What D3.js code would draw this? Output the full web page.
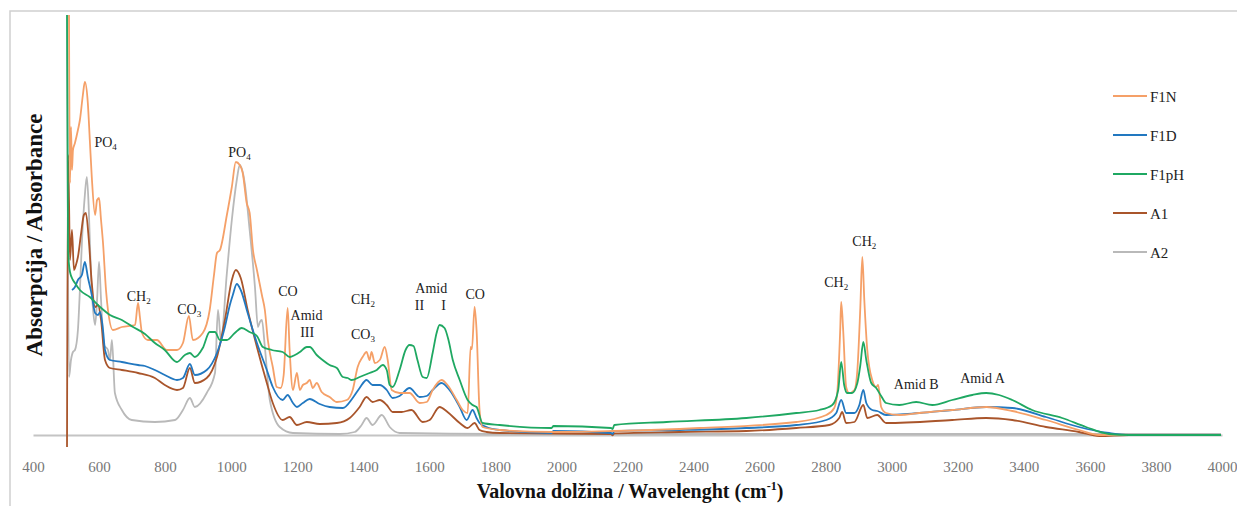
<!DOCTYPE html>
<html>
<head>
<meta charset="utf-8">
<script src="https://cdn.jsdelivr.net/npm/d3@7"></script>
<style>
  body { margin: 0; background: #fff; }
  svg { display: block; font-family: "Liberation Serif", "Times New Roman", serif; }
  .axis text { fill: #777; font-size: 15px; font-family: "Liberation Serif", "Times New Roman", serif; }
  .axis .domain { stroke: #c4c4c4; stroke-width: 2; }
  .series { fill: none; stroke-width: 1.8; stroke-linejoin: round; }
  .note { font-size: 14px; fill: #222; text-anchor: middle; }
</style>
</head>
<body>
<div id="chart"></div>
<script>
// wavenumber ticks
const xTicks = [400, 600, 800, 1000, 1200, 1400, 1600, 1800, 2000, 2200, 2400,
  2600, 2800, 3000, 3200, 3400, 3600, 3800, 4000];

const seriesNames = ["F1N", "F1D", "F1pH", "A1", "A2"];

// [wavenumber cm-1, absorbance]
const f1n = [[509,2.10],[512,1.26],[515,1.54],[518,1.325],[521,1.425],[527,1.46],[536,1.525],[542,1.575],
  [551,1.70],[557,1.765],[566,1.66],[572,1.475],[578,1.29],[588,1.10],[594,1.175],[600,1.185],[606,1.075],
  [612,0.96],[621,0.725],[627,0.625],[642,0.525],[669,0.54],[709,0.55],[718,0.66],[724,0.585],[730,0.51],
  [748,0.475],[775,0.475],[805,0.425],[836,0.425],[854,0.46],[872,0.595],[884,0.475],[914,0.51],[935,0.625],
  [948,0.80],[957,0.91],[966,0.925],[987,1.10],[1002,1.24],[1014,1.365],[1026,1.35],[1035,1.31],[1047,1.16],
  [1056,1.11],[1066,0.925],[1078,0.825],[1093,0.70],[1102,0.625],[1111,0.475],[1126,0.34],[1138,0.24],
  [1150,0.235],[1159,0.30],[1171,0.635],[1177,0.425],[1187,0.225],[1199,0.31],[1208,0.225],[1217,0.25],
  [1229,0.26],[1238,0.275],[1247,0.235],[1259,0.26],[1274,0.215],[1298,0.19],[1320,0.165],[1350,0.175],
  [1368,0.225],[1383,0.34],[1398,0.39],[1410,0.415],[1419,0.375],[1425,0.415],[1435,0.36],[1450,0.375],
  [1465,0.44],[1474,0.375],[1486,0.225],[1510,0.21],[1540,0.21],[1571,0.16],[1592,0.165],[1610,0.225],
  [1637,0.275],[1655,0.25],[1683,0.175],[1701,0.125],[1716,0.11],[1725,0.44],[1729,0.43],[1737,0.64],
  [1743,0.525],[1752,0.125],[1761,0.04],[1813,0.025],[1973,0.015],[2155,0.02],[2418,0.035],[2711,0.065],
  [2802,0.10],[2826,0.135],[2835,0.21],[2844,0.525],[2847,0.665],[2853,0.525],[2862,0.24],[2871,0.21],
  [2887,0.225],[2896,0.325],[2905,0.64],[2911,0.89],[2917,0.675],[2926,0.425],[2941,0.275],[2953,0.24],
  [2959,0.25],[2968,0.14],[2983,0.11],[3023,0.10],[3083,0.11],[3183,0.125],[3286,0.14],[3365,0.12],
  [3467,0.075],[3567,0.025],[3628,0.0],[3997,0.0]];

const f1d = [[518,0.725],[527,0.74],[536,0.775],[548,0.80],[557,0.865],[566,0.79],[578,0.70],[588,0.61],
  [597,0.60],[603,0.615],[612,0.525],[618,0.425],[633,0.375],[669,0.365],[718,0.35],[739,0.345],[769,0.325],
  [799,0.30],[836,0.275],[854,0.285],[875,0.355],[890,0.30],[926,0.325],[957,0.41],[981,0.54],[996,0.65],
  [1005,0.70],[1017,0.755],[1029,0.725],[1050,0.61],[1078,0.46],[1108,0.325],[1126,0.24],[1156,0.175],
  [1171,0.20],[1187,0.16],[1199,0.14],[1217,0.16],[1238,0.18],[1268,0.155],[1298,0.14],[1338,0.135],
  [1368,0.185],[1389,0.235],[1410,0.275],[1428,0.25],[1450,0.25],[1471,0.225],[1489,0.185],[1510,0.195],
  [1540,0.235],[1571,0.19],[1592,0.195],[1610,0.225],[1637,0.26],[1661,0.225],[1692,0.14],[1713,0.075],
  [1731,0.125],[1743,0.085],[1752,0.06],[1773,0.04],[1813,0.025],[1970,0.01],[1976,0.02],[2150,0.01],
  [2155,0.005],[2160,0.02],[2357,0.025],
  [2560,0.035],[2711,0.05],[2802,0.075],[2832,0.11],[2847,0.175],[2862,0.11],[2887,0.11],[2902,0.15],
  [2914,0.225],[2923,0.16],[2941,0.125],[2956,0.12],[2983,0.10],[3083,0.11],[3183,0.125],[3286,0.14],
  [3365,0.135],[3467,0.09],[3567,0.04],[3658,0.01],[3718,0.0],[3997,0.0]];

const f1ph = [[503,2.10],[506,0.925],[512,0.815],[521,0.775],[527,0.76],[542,0.725],[572,0.69],[603,0.64],
  [633,0.60],[669,0.575],[703,0.54],[739,0.505],[769,0.46],[799,0.425],[836,0.365],[860,0.40],[875,0.41],
  [890,0.39],[914,0.435],[935,0.515],[951,0.515],[966,0.475],[987,0.475],[1011,0.51],[1032,0.535],
  [1056,0.515],[1078,0.495],[1096,0.44],[1123,0.425],[1156,0.415],[1177,0.39],[1193,0.40],[1208,0.415],
  [1229,0.44],[1238,0.44],[1259,0.40],[1277,0.375],[1298,0.35],[1320,0.335],[1338,0.29],[1353,0.285],
  [1365,0.275],[1389,0.29],[1419,0.31],[1441,0.325],[1459,0.35],[1471,0.325],[1480,0.25],[1489,0.24],
  [1510,0.325],[1528,0.425],[1540,0.45],[1552,0.445],[1564,0.375],[1580,0.29],[1592,0.285],[1610,0.41],
  [1622,0.51],[1631,0.55],[1646,0.535],[1658,0.475],[1671,0.375],[1692,0.275],[1716,0.175],[1731,0.15],
  [1743,0.14],[1761,0.06],[1813,0.05],[1970,0.035],[1976,0.045],[2150,0.035],[2155,0.03],[2160,0.05],
  [2318,0.065],[2560,0.085],[2711,0.11],
  [2781,0.125],[2820,0.15],[2838,0.225],[2847,0.365],[2856,0.25],[2865,0.21],[2880,0.21],[2896,0.26],
  [2905,0.35],[2914,0.465],[2923,0.375],[2938,0.26],[2953,0.235],[2968,0.195],[2983,0.16],[3023,0.15],
  [3074,0.165],[3123,0.15],[3183,0.175],[3244,0.20],[3286,0.21],[3325,0.20],[3365,0.175],[3425,0.125],
  [3516,0.085],[3588,0.04],[3658,0.005],[3718,0.0],[3997,0.0]];

const a1 = [[503,-0.06],[506,1.40],[509,1.175],[512,0.875],[518,1.025],[524,0.825],[530,0.85],[536,0.89],
  [545,1.00],[554,1.10],[560,1.11],[569,0.975],[578,0.76],[588,0.64],[597,0.65],[606,0.575],[618,0.375],
  [633,0.335],[669,0.325],[718,0.31],[769,0.285],[799,0.25],[836,0.225],[854,0.235],[875,0.335],[890,0.26],
  [926,0.285],[957,0.39],[981,0.575],[1002,0.775],[1014,0.825],[1029,0.785],[1050,0.625],[1078,0.44],
  [1108,0.26],[1126,0.16],[1156,0.075],[1177,0.09],[1199,0.05],[1229,0.065],[1268,0.055],[1320,0.06],
  [1359,0.085],[1389,0.14],[1410,0.19],[1428,0.165],[1450,0.175],[1471,0.15],[1489,0.115],[1516,0.115],
  [1546,0.125],[1580,0.065],[1601,0.075],[1631,0.14],[1655,0.115],[1692,0.06],[1716,0.035],[1737,0.06],
  [1752,0.025],[1773,0.015],[1813,0.01],[2150,0.005],[2155,-0.002],[2160,0.008],[2357,0.015],[2560,0.02],
  [2711,0.035],[2811,0.05],
  [2841,0.085],[2850,0.115],[2862,0.06],[2887,0.065],[2914,0.15],[2926,0.085],[2956,0.10],[2983,0.06],
  [3183,0.075],[3286,0.085],[3365,0.075],[3467,0.04],[3567,0.015],[3628,-0.005],[3718,0.0],[3997,0.0]];

const a2 = [[503,2.10],[509,0.29],[515,0.375],[521,0.415],[527,0.425],[536,0.525],[542,0.725],[548,0.96],
  [557,1.20],[563,1.29],[569,1.125],[575,0.825],[582,0.625],[588,0.55],[594,0.675],[600,0.865],[606,0.675],
  [615,0.45],[627,0.425],[633,0.375],[639,0.475],[648,0.21],[669,0.125],[699,0.075],[769,0.065],[830,0.075],
  [854,0.125],[875,0.185],[890,0.14],[926,0.21],[951,0.31],[960,0.625],[969,0.475],[987,0.81],[1002,1.075],
  [1017,1.275],[1026,1.35],[1041,1.26],[1056,1.025],[1072,0.74],[1081,0.54],[1087,0.565],[1093,0.575],
  [1102,0.44],[1117,0.175],[1147,0.04],[1187,0.01],[1329,0.005],[1374,0.015],[1395,0.05],[1410,0.085],
  [1428,0.05],[1456,0.10],[1480,0.04],[1510,0.01],[1813,0.005],[3997,0.005]];

const seriesValues = [f1n, f1d, f1ph, a1, a2];
const seriesColors = ["#f5a068", "#2278c0", "#1fa862", "#a9552b", "#b9b9b9"];
const drawOrder = [4, 3, 1, 0, 2];

// peak annotations: [wavenumber, absorbance, main text, subscript]
const notes = [
  [620, 1.44, "PO", "4"], [1025, 1.39, "PO", "4"], [720, 0.67, "CH", "2"], [873, 0.605, "CO", "3"],
  [1172, 0.695, "CO", ""], [1228, 0.575, "Amid", ""], [1230, 0.49, "III", ""],
  [1399, 0.655, "CH", "2"], [1399, 0.48, "CO", "3"], [1606, 0.71, "Amid", ""],
  [1570, 0.625, "II", ""], [1643, 0.625, "I", ""], [1739, 0.68, "CO", ""],
  [2832, 0.74, "CH", "2"], [2917, 0.945, "CH", "2"], [3074, 0.23, "Amid B", ""], [3275, 0.26, "Amid A", ""]
];

const width = 1237, height = 506;

const svg = d3.select("#chart").append("svg")
  .attr("width", width).attr("height", height);

// figure frame
svg.append("rect")
  .attr("x", 10).attr("y", 11).attr("width", 1300).attr("height", 600)
  .attr("fill", "none").attr("stroke", "#cfcfcf").attr("stroke-width", 1.5);

let x = d3.scaleLinear().domain([400, 4000]).range([33, 1222]),
    y = d3.scaleLinear().domain([0, 2.1]).range([435, 15]);

svg.append("g")
  .attr("class", "axis")
  .attr("transform", "translate(0,435)")
  .call(d3.axisBottom(x).tickValues(xTicks).tickSize(0).tickSizeOuter(0).tickPadding(26).tickFormat(d3.format("d")))
  .attr("font-family", null)
  .attr("font-size", null);

svg.append("clipPath").attr("id", "plot-clip")
  .append("rect").attr("x", 33).attr("y", 15).attr("width", 1190).attr("height", 440);

let line = d3.line()
  .x(function (d) { return x(d[0]); })
  .y(function (d) { return y(d[1]); })
  .curve(d3.curveMonotoneX);

svg.append("g").attr("clip-path", "url(#plot-clip)")
  .selectAll("path")
  .data(drawOrder)
  .enter().append("path")
  .attr("class", "series")
  .attr("stroke", function (i) { return seriesColors[i]; })
  .attr("d", function (i) { return line(seriesValues[i]); });

// annotations
let note = svg.append("g").selectAll("text")
  .data(notes)
  .enter().append("text")
  .attr("class", "note")
  .attr("x", function (d) { return x(d[0]); })
  .attr("y", function (d) { return y(d[1]); });
note.append("tspan").text(function (d) { return d[2]; });
note.append("tspan")
  .attr("dy", 3).attr("font-size", 9)
  .text(function (d) { return d[3]; });

// legend
let legend = svg.append("g").selectAll("g")
  .data(seriesNames)
  .enter().append("g")
  .attr("transform", function (d, i) { return "translate(1113," + (96 + i * 39) + ")"; });
legend.append("line")
  .attr("x1", 0).attr("x2", 34)
  .attr("stroke", function (d, i) { return seriesColors[i]; })
  .attr("stroke-width", 1.8);
legend.append("text")
  .attr("x", 37).attr("y", 6)
  .attr("font-size", 15).attr("fill", "#222")
  .text(function (d) { return d; });

// axis titles
svg.append("text")
  .attr("transform", "translate(42,235) rotate(-90)")
  .attr("text-anchor", "middle")
  .attr("font-size", 23).attr("font-weight", "bold").attr("fill", "#111")
  .text("Absorpcija / Absorbance");

let xTitle = svg.append("text")
  .attr("x", 630).attr("y", 498)
  .attr("text-anchor", "middle")
  .attr("font-size", 20).attr("font-weight", "bold").attr("fill", "#111");
xTitle.append("tspan").text("Valovna dolžina / Wavelenght (cm");
xTitle.append("tspan").attr("dy", -8).attr("font-size", 12).text("-1");
xTitle.append("tspan").attr("dy", 8).text(")");
</script>
</body>
</html>
